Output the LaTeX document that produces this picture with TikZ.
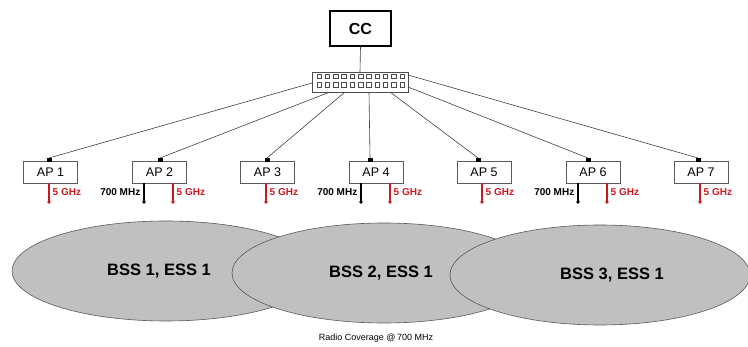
\documentclass[tikz,border=0pt]{standalone}
\usepackage{fontspec}
\setmainfont{Liberation Sans}
\usetikzlibrary{shapes.geometric}
\definecolor{antred}{RGB}{204,24,30}
\definecolor{ellfill}{RGB}{192,192,192}
\definecolor{boxline}{RGB}{90,90,90}
\tikzset{
  apbox/.style={draw=boxline,line width=0.8pt,fill=white,minimum width=54pt,minimum height=22pt,inner sep=0pt,outer sep=0pt,font=\fontsize{12.5}{13}\selectfont},
  sqport/.style={fill=black,minimum width=5pt,minimum height=4pt,inner sep=0pt,outer sep=0pt},
  link/.style={draw=black!75,line width=0.6pt},
  antr/.style={draw=antred,line width=1.5pt},
  antb/.style={draw=black,line width=1.5pt},
  dotr/.style={circle,fill=antred,minimum size=3.6pt,inner sep=0pt,outer sep=0pt},
  dotb/.style={circle,fill=black,minimum size=3.6pt,inner sep=0pt,outer sep=0pt},
  lab5/.style={text=antred,font=\bfseries\fontsize{10}{11}\selectfont,anchor=west,inner sep=0pt},
  lab7/.style={text=black,font=\bfseries\fontsize{10}{11}\selectfont,anchor=east,inner sep=0pt},
  ell/.style={ellipse,draw=black!65,line width=0.6pt,fill=ellfill,inner sep=0pt,outer sep=0pt,font=\bfseries\fontsize{16.5}{18}\selectfont},
  swsq/.style={draw=black!70,line width=0.5pt,fill=white,minimum size=4.5pt,inner sep=0pt}
}
\begin{document}
\begin{tikzpicture}[x=1pt,y=-1pt]
\useasboundingbox (0,0) rectangle (748,347);
% ellipses
\node[ell,minimum width=308pt,minimum height=100pt] (e1) at (166,271) {BSS 1, ESS 1\hspace*{14pt}};
\node[ell,minimum width=304pt,minimum height=100pt] (e2) at (384,273) {BSS 2, ESS 1\hspace*{6pt}};
\node[ell,minimum width=300pt,minimum height=100pt] (e3) at (600,275) {\hspace*{24pt}BSS 3, ESS 1};
\node[font=\fontsize{9}{10}\selectfont,inner sep=0pt] (rc) at (376,338) {Radio Coverage @\,700 MHz};
% CC and switch
\node[draw=black,line width=2pt,minimum width=61pt,minimum height=35pt,inner sep=0pt,font=\bfseries\fontsize{16}{17}\selectfont] (cc) at (360.5,28.5) {CC};
\node[draw=black!70,line width=0.8pt,fill=white,minimum width=96pt,minimum height=20pt,inner sep=0pt,outer sep=0pt] (sw) at (360,82) {};
\foreach \i in {0,...,10} {
  \node[swsq] (sa\i) at ({319+8.3*\i},76.5) {};
  \node[swsq] (sb\i) at ({319+8.3*\i},85) {};
}
\draw[link] (cc.south) -- (sw.north);
% switch ports
\coordinate (p1) at (312,83);
\coordinate (p2) at (330,92);
\coordinate (p3) at (345,92);
\coordinate (p4) at (369,92);
\coordinate (p5) at (390,92);
\coordinate (p6) at (408,87);
\coordinate (p7) at (408,75);
% APs
\node[apbox] (ap1) at (50.5,172) {AP 1};
\node[apbox] (ap2) at (159.5,172) {AP 2};
\node[apbox] (ap3) at (267.5,172) {AP 3};
\node[apbox] (ap4) at (376,172) {AP 4};
\node[apbox] (ap5) at (484,172) {AP 5};
\node[apbox] (ap6) at (593,172) {AP 6};
\node[apbox] (ap7) at (701,172) {AP 7};
\node[sqport] (q1) at (49,160) {};
\node[sqport] (q2) at (160,160) {};
\node[sqport] (q3) at (267,160) {};
\node[sqport] (q4) at (370,160) {};
\node[sqport] (q5) at (478,160) {};
\node[sqport] (q6) at (588,160) {};
\node[sqport] (q7) at (698,160) {};
\foreach \k in {1,...,7} { \draw[link] (p\k) -- (q\k.north); }
% antennas 5 GHz
\foreach \k/\x in {1/49,2/173,3/266,4/390,5/482,6/607,7/700} {
  \node[dotr] (r\k) at (\x,202) {};
  \draw[antr] (r\k |- ap\k.south) -- (r\k.center);
  \node[lab5] (l\k) at (\x+3.5,192) {5 GHz};
}
% antennas 700 MHz
\foreach \k/\x in {2/144,4/361,6/578} {
  \node[dotb] (b\k) at (\x,202) {};
  \draw[antb] (b\k |- ap\k.south) -- (b\k.center);
  \node[lab7] (m\k) at (\x-3.5,192) {700 MHz};
}
\end{tikzpicture}
\end{document}
